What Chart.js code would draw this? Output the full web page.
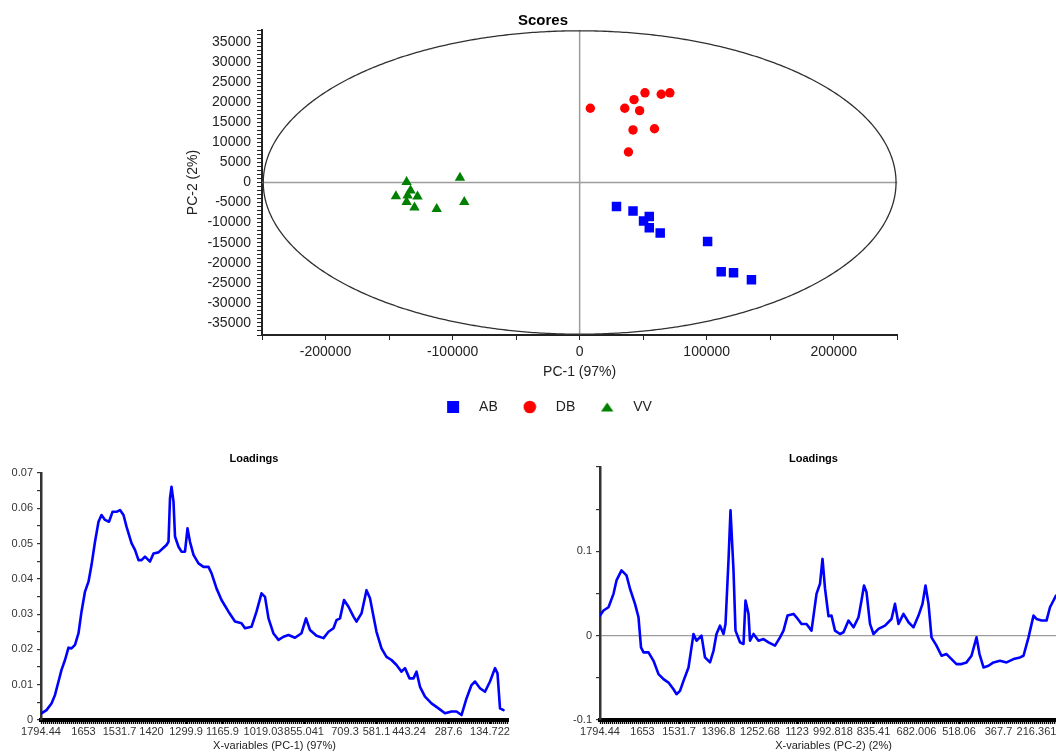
<!DOCTYPE html>
<html>
<head>
<meta charset="utf-8">
<script src="https://cdn.jsdelivr.net/npm/chart.js@4.4.1/dist/chart.umd.min.js"></script>
<style>
  html, body { margin: 0; padding: 0; background: #fff; width: 1056px; height: 754px; overflow: hidden; }
  canvas { position: absolute; }
  #scores { left: 184px; top: 0; }
  #load1 { left: 0; top: 440px; }
  #load2 { left: 560px; top: 440px; }
</style>
</head>
<body>
<canvas id="scores" width="720" height="424"></canvas>
<canvas id="load1" width="518" height="314"></canvas>
<canvas id="load2" width="527" height="314"></canvas>
<script>
// ---- Scores (PC-1 / PC-2) per sample class ----
const abPC1 = [29000, 42000, 54800, 50300, 54800, 63400, 100700, 111400, 121100, 135200];
const abPC2 = [-6000, -7100, -8450, -9600, -11300, -12600, -14700, -22250, -22500, -24250];
const dbPC1 = [8400, 35500, 42800, 51400, 47200, 64200, 71000, 42000, 58900, 38400];
const dbPC2 = [18500, 18500, 20650, 22350, 17900, 22000, 22350, 13100, 13400, 7600];
const vvPC1 = [-136200, -144600, -133100, -127600, -136200, -130000, -112500, -90800, -94200, -135400];
const vvPC2 = [100, -3450, -2000, -3500, -4850, -6250, -6600, -4850, 1200, -3250];

const classNames = ['AB', 'DB', 'VV'];
const classColors = ['#0000ff', '#ff0000', '#008000'];

// Hotelling T2 confidence ellipse (semi-axes in score units)
const ellipsePC1 = 249000;
const ellipsePC2 = 37800;

// ---- Loadings: variable number -> loading value ----
const nVariables = 934;

const pc1Var = [1,11,21,28,35,41,48,55,61,68,75,81,88,95,101,108,115,121,128,136,
  143,151,158,165,171,181,188,195,201,208,218,225,235,245,251,255,258,261,265,268,
  275,281,288,293,298,305,315,325,335,341,351,361,375,388,401,408,421,431,441,448,
  455,465,475,485,495,508,521,530,538,551,565,575,585,591,598,606,615,625,631,641,
  651,658,665,671,681,691,701,711,721,728,737,745,751,758,768,781,795,808,821,831,
  841,851,861,868,878,888,898,908,913,918,925];
const pc1Load = [0.0019,0.0028,0.0047,0.0071,0.0109,0.0142,0.0170,0.0205,0.0203,0.0213,
  0.0246,0.0307,0.0364,0.0392,0.0439,0.0505,0.0562,0.0581,0.0567,0.0562,
  0.0590,0.0590,0.0595,0.0581,0.0548,0.0501,0.0482,0.0453,0.0453,0.0463,
  0.0449,0.0472,0.0475,0.0488,0.0496,0.0505,0.0628,0.0661,0.0619,0.0520,
  0.0491,0.0477,0.0477,0.0543,0.0505,0.0468,0.0444,0.0434,0.0434,0.0416,
  0.0373,0.0340,0.0307,0.0279,0.0274,0.0260,0.0264,0.0307,0.0359,0.0349,
  0.0288,0.0245,0.0227,0.0236,0.0241,0.0233,0.0246,0.0288,0.0255,0.0239,
  0.0232,0.0250,0.0260,0.0283,0.0288,0.0340,0.0321,0.0293,0.0279,0.0302,
  0.0368,0.0345,0.0293,0.0250,0.0203,0.0179,0.0170,0.0156,0.0137,0.0147,
  0.0118,0.0118,0.0137,0.0094,0.0066,0.0047,0.0033,0.0019,0.0024,0.0024,
  0.0014,0.0061,0.0099,0.0109,0.0090,0.0080,0.0109,0.0147,0.0132,0.0033,0.0028];

const pc2Var = [0,7,17,27,33,43,53,60,70,77,82,87,97,107,117,127,137,147,153,160,
  167,177,183,187,193,203,210,220,227,233,240,247,251,257,261,267,271,280,287,291,
  297,300,307,317,327,337,350,360,367,375,387,393,403,413,423,433,440,445,450,457,
  463,470,480,487,497,507,517,523,528,533,540,547,557,570,583,590,597,607,617,627,
  637,645,651,657,663,673,683,693,703,713,723,733,743,753,759,767,777,787,800,813,
  827,840,847,857,867,873,883,893,900,907,912];
const pc2Load = [0.0238,0.0298,0.0337,0.0496,0.0655,0.0774,0.0714,0.0556,0.0377,0.0218,
  -0.0139,-0.0198,-0.0198,-0.0298,-0.0456,-0.0516,-0.0556,-0.0635,-0.0694,-0.0655,
  -0.0536,-0.0377,-0.0139,0.0020,-0.0060,0.0000,-0.0258,-0.0317,-0.0179,0.0020,
  0.0119,0.0020,0.0139,0.0893,0.1488,0.0774,0.0060,-0.0079,-0.0099,0.0417,
  0.0258,-0.0060,0.0020,-0.0060,-0.0040,-0.0079,-0.0119,-0.0020,0.0060,0.0238,
  0.0258,0.0218,0.0139,0.0139,0.0060,0.0496,0.0615,0.0910,0.0560,0.0230,
  0.0238,0.0060,0.0020,0.0040,0.0179,0.0099,0.0218,0.0417,0.0595,0.0516,
  0.0139,0.0020,0.0080,0.0119,0.0198,0.0377,0.0139,0.0258,0.0159,0.0099,
  0.0238,0.0377,0.0595,0.0377,-0.0020,-0.0119,-0.0238,-0.0218,-0.0278,-0.0337,
  -0.0337,-0.0317,-0.0238,-0.0020,-0.0218,-0.0377,-0.0357,-0.0317,-0.0298,-0.0317,
  -0.0278,-0.0258,-0.0238,-0.0020,0.0238,0.0198,0.0179,0.0179,0.0337,0.0417,0.0476];

// Wavenumber labels shown on the variable axis, with the variable they sit on
const pc1TickLabels = ['1794.44','1653','1531.7','1420','1299.9','1165.9','1019.03','855.041','709.3','581.1','443.24','287.6','134.722'];
const pc1TickVar = [0,85,157,221,290,363,445,526,608,671,736,815,898];
const pc2TickLabels = ['1794.44','1653','1531.7','1396.8','1252.68','1123','992.818','835.41','682.006','518.06','367.7','216.361'];
const pc2TickVar = [0,85,158,237,320,394,466,547,633,718,797,873];

// ---------------------------------------------------------------
const FONT = "'Liberation Sans', Arial, sans-serif";
Chart.defaults.font.family = FONT;
Chart.defaults.color = '#222';

function pairs(xs, ys) { return xs.map((x, i) => ({ x, y: ys[i] })); }

function legendMarker(style, color) {
  const c = document.createElement('canvas');
  c.width = 14; c.height = 14;
  const g = c.getContext('2d');
  g.fillStyle = color;
  g.beginPath();
  if (style === 'rect') g.rect(1, 1, 12, 12);
  else if (style === 'circle') g.arc(7, 7, 6.3, 0, Math.PI * 2);
  else { g.moveTo(7, 2.5); g.lineTo(13.2, 11.5); g.lineTo(0.8, 11.5); g.closePath(); }
  g.fill();
  return c;
}
const pointStyles = ['rect', 'circle', 'triangle'];
const legendMarkers = pointStyles.map((s, i) => legendMarker(s, classColors[i]));

// zero cross-hair and confidence ellipse behind the score points
const scoreOverlay = {
  id: 'scoreOverlay',
  beforeDatasetsDraw(chart) {
    const { ctx, chartArea: a, scales: { x, y } } = chart;
    ctx.save();
    const x0 = x.getPixelForValue(0), y0 = y.getPixelForValue(0);
    ctx.strokeStyle = '#9c9c9c';
    ctx.lineWidth = 1.5;
    ctx.beginPath();
    ctx.moveTo(x0, a.top); ctx.lineTo(x0, a.bottom);
    ctx.moveTo(a.left, y0); ctx.lineTo(a.right, y0);
    ctx.stroke();
    ctx.beginPath();
    for (let i = 0; i <= 720; i++) {
      const t = i / 720 * Math.PI * 2;
      const px = x.getPixelForValue(ellipsePC1 * Math.cos(t));
      const py = y.getPixelForValue(ellipsePC2 * Math.sin(t));
      if (i === 0) ctx.moveTo(px, py); else ctx.lineTo(px, py);
    }
    ctx.strokeStyle = '#303030';
    ctx.lineWidth = 1.3;
    ctx.stroke();
    ctx.restore();
  }
};

const scoreSets = [[abPC1, abPC2], [dbPC1, dbPC2], [vvPC1, vvPC2]];
const pointRadii = [6.7, 4.7, 6];

new Chart(document.getElementById('scores'), {
  type: 'scatter',
  data: {
    datasets: scoreSets.map((s, i) => ({
      label: classNames[i],
      data: pairs(s[0], s[1]),
      pointStyle: pointStyles[i],
      pointRadius: pointRadii[i],
      backgroundColor: classColors[i],
      borderColor: classColors[i],
      borderWidth: 0
    }))
  },
  options: {
    responsive: false, animation: false, devicePixelRatio: 1, events: [],
    layout: { padding: { left: 0, right: 2, top: 0, bottom: 0 } },
    plugins: {
      tooltip: { enabled: false },
      title: { display: true, text: 'Scores', color: '#000', font: { size: 15, weight: 'bold' }, padding: { top: 12, bottom: 0 } },
      legend: {
        position: 'bottom',
        labels: {
          usePointStyle: true, pointStyleWidth: 38, padding: 13, color: '#222', font: { size: 14 },
          generateLabels(chart) {
            const items = Chart.defaults.plugins.legend.labels.generateLabels(chart);
            items.forEach((it, i) => { it.pointStyle = legendMarkers[i]; });
            return items;
          }
        }
      }
    },
    scales: {
      x: {
        type: 'linear', min: -250000, max: 250000,
        afterFit: s => { s.height = 52; },
        ticks: { stepSize: 50000, autoSkip: false, maxRotation: 0, minRotation: 0, padding: 4, color: '#222', font: { size: 14 },
          callback: v => (v % 100000 === 0 ? String(v) : '') },
        grid: { drawOnChartArea: false, tickLength: 5, tickColor: '#222', tickWidth: 1 },
        border: { color: '#222', width: 2 },
        title: { display: true, text: 'PC-1 (97%)', color: '#222', font: { size: 14 }, padding: { top: 0, bottom: 6 } }
      },
      y: {
        type: 'linear', min: -38000, max: 38000,
        afterFit: s => { s.width = 78; },
        ticks: { stepSize: 1000, autoSkip: false, padding: 6, color: '#222', font: { size: 14 },
          callback: v => (v % 5000 === 0 ? String(v) : '') },
        grid: { drawOnChartArea: false, tickLength: 5, tickColor: '#222', tickWidth: 1 },
        border: { color: '#222', width: 2 },
        title: { display: true, text: 'PC-2 (2%)', color: '#222', font: { size: 14 }, padding: { top: 1, bottom: 0 } }
      }
    }
  },
  plugins: [scoreOverlay]
});

// one tick mark every few variables, plus the labelled ones
function variableTicks(labelVars) {
  const set = new Set(labelVars);
  for (let v = 0; v <= nVariables; v += 4) set.add(v);
  return [...set].sort((a, b) => a - b).map(v => ({ value: v }));
}

function loadingsChart(id, vars, values, tickVars, tickLabels, cfg) {
  const tickText = new Map(tickVars.map((v, i) => [v, tickLabels[i]]));
  return new Chart(document.getElementById(id), {
    type: 'line',
    data: {
      datasets: [{
        data: pairs(vars, values),
        borderColor: '#0000ff', borderWidth: 2.6, borderJoinStyle: 'round', borderCapStyle: 'round',
        pointRadius: 0, tension: 0, fill: false
      }]
    },
    options: {
      responsive: false, animation: false, devicePixelRatio: 1, events: [],
      layout: { padding: { right: cfg.padRight } },
      plugins: {
        legend: { display: false }, tooltip: { enabled: false },
        title: { display: true, text: 'Loadings', color: '#000', font: { size: 11, weight: 'bold' }, padding: { top: 12.4, bottom: cfg.titleGap } }
      },
      scales: {
        x: {
          type: 'linear', min: 0, max: nVariables,
          afterFit: s => { s.height = 34; },
          afterBuildTicks: s => { s.ticks = variableTicks(tickVars); },
          ticks: { autoSkip: false, maxRotation: 0, minRotation: 0, padding: 1, color: '#333', font: { size: 11 },
            callback: v => tickText.get(v) ?? '' },
          grid: { drawOnChartArea: false, tickLength: 4, tickColor: '#000', tickWidth: 1.3 },
          border: { color: '#000', width: 4 },
          title: { display: true, text: cfg.xTitle, color: '#222', font: { size: 11 }, padding: { top: 0, bottom: 1 } }
        },
        y: {
          type: 'linear', min: cfg.yMin, max: cfg.yMax,
          afterFit: s => { s.width = cfg.yWidth; },
          ticks: { stepSize: cfg.yStep, autoSkip: false, padding: 4, color: '#333', font: { size: 11 }, callback: cfg.yLabel },
          grid: {
            drawOnChartArea: cfg.zeroLine, tickLength: 4, tickColor: '#333', lineWidth: 1.2,
            color: c => (cfg.zeroLine && c.tick && Math.abs(c.tick.value) < 1e-9 ? '#9c9c9c' : 'rgba(0,0,0,0)')
          },
          border: { color: '#333', width: 2.5 }
        }
      }
    }
  });
}

loadingsChart('load1', pc1Var, pc1Load, pc1TickVar, pc1TickLabels, {
  xTitle: 'X-variables (PC-1) (97%)', padRight: 10, titleGap: 7.4, yWidth: 41,
  yMin: 0, yMax: 0.07, yStep: 0.005, zeroLine: false,
  yLabel: v => { const k = Math.round(v * 1000); return k % 10 === 0 ? (k === 0 ? '0' : (k / 1000).toFixed(2)) : ''; }
});

loadingsChart('load2', pc2Var, pc2Load, pc2TickVar, pc2TickLabels, {
  xTitle: 'X-variables (PC-2) (2%)', padRight: 20, titleGap: 1.4, yWidth: 40,
  yMin: -0.1, yMax: 0.2, yStep: 0.05, zeroLine: true,
  yLabel: v => { const k = Math.round(v * 100); return (k === -10 || k === 0 || k === 10) ? (k === 0 ? '0' : (k / 100).toFixed(1)) : ''; }
});
</script>
</body>
</html>
